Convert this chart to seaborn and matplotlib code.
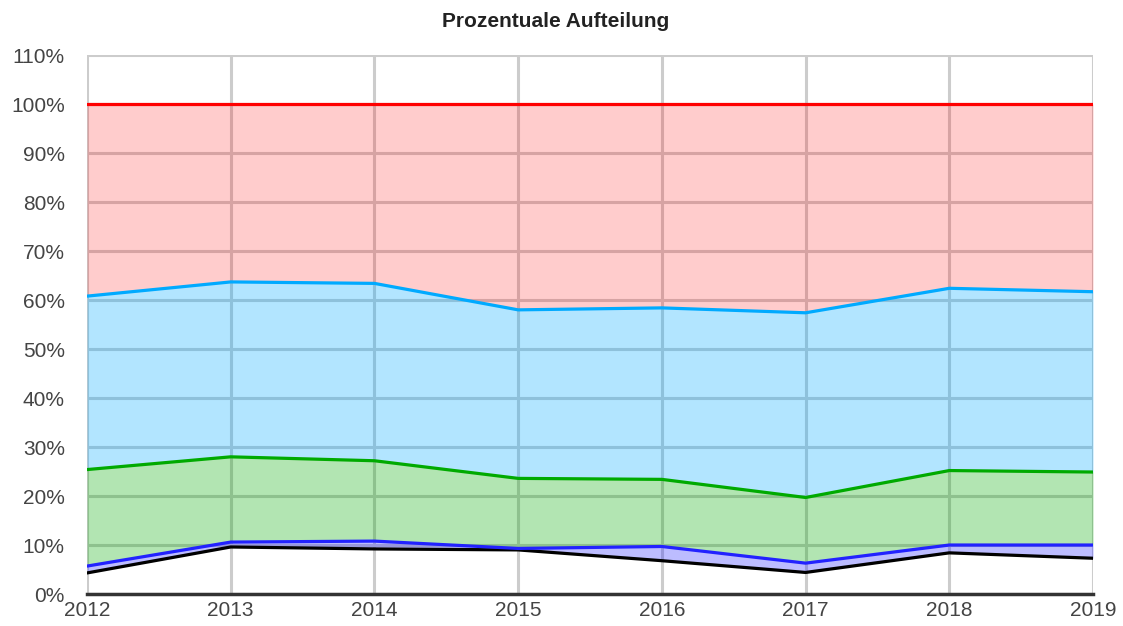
import pandas as pd
import seaborn as sns
import matplotlib.pyplot as plt
from matplotlib.ticker import FuncFormatter

# Jahre und kumulierte Anteile (in %) der einzelnen Linien
jahre = [2012, 2013, 2014, 2015, 2016, 2017, 2018, 2019]
schwarz = [4.3, 9.6, 9.2, 9.0, 6.8, 4.4, 8.4, 7.3]
blau = [5.7, 10.6, 10.8, 9.3, 9.7, 6.3, 10.0, 10.0]
gruen = [25.4, 28.0, 27.2, 23.6, 23.4, 19.7, 25.2, 24.9]
hellblau = [60.8, 63.7, 63.4, 58.0, 58.4, 57.4, 62.4, 61.7]
rot = [100, 100, 100, 100, 100, 100, 100, 100]

reihen = {'schwarz': schwarz, 'blau': blau, 'gruen': gruen,
          'hellblau': hellblau, 'rot': rot}
farben = {'schwarz': '#000000', 'blau': '#2222ff', 'gruen': '#00aa00',
          'hellblau': '#00aaff', 'rot': '#ff0000'}

df = pd.DataFrame([
    {'jahr': j, 'reihe': name, 'wert': v}
    for name, werte in reihen.items()
    for j, v in zip(jahre, werte)
])

sns.set_style('white')
plt.rcParams['font.family'] = ['Liberation Sans', 'DejaVu Sans']

fig = plt.figure(figsize=(11.23, 6.26), dpi=100)
ax = fig.add_axes([0.0775, 0.0511, 0.8958, 0.8609])

# Flächen zwischen den Linien (halbtransparent über dem Gitter)
stufen = [('schwarz', 'blau'), ('blau', 'gruen'), ('gruen', 'hellblau'), ('hellblau', 'rot')]
for unten, oben in stufen:
    alpha = 0.2 if oben == 'rot' else 0.3
    ax.fill_between(jahre, reihen[unten], reihen[oben], color=farben[oben],
                    alpha=alpha, linewidth=0, zorder=2)

sns.lineplot(data=df, x='jahr', y='wert', hue='reihe', palette=farben,
             linewidth=2.3, legend=False, ax=ax, zorder=3)

ax.set_xlim(2012, 2019)
ax.set_ylim(0, 110)
ax.set_xticks(jahre)
ax.set_yticks(range(0, 111, 10))
ax.yaxis.set_major_formatter(FuncFormatter(lambda v, p: f'{int(v)}%'))
ax.grid(True, color='#cccccc', linewidth=2.2, zorder=1)
ax.set_axisbelow(True)
ax.tick_params(axis='both', length=0, labelsize=15, colors='#444444')
ax.tick_params(axis='y', pad=16)
ax.tick_params(axis='x', pad=5)
ax.set_xlabel('')
ax.set_ylabel('')

for s in ['left', 'right', 'top']:
    ax.spines[s].set_visible(False)
ax.spines['bottom'].set_color('#333333')
ax.spines['bottom'].set_linewidth(2.5)
ax.spines['bottom'].set_zorder(4)

fig.text(0.495, 0.965, 'Prozentuale Aufteilung', fontsize=15, fontweight='bold',
         color='#222222', ha='center', va='center')

fig.savefig('out.png', dpi=100)
